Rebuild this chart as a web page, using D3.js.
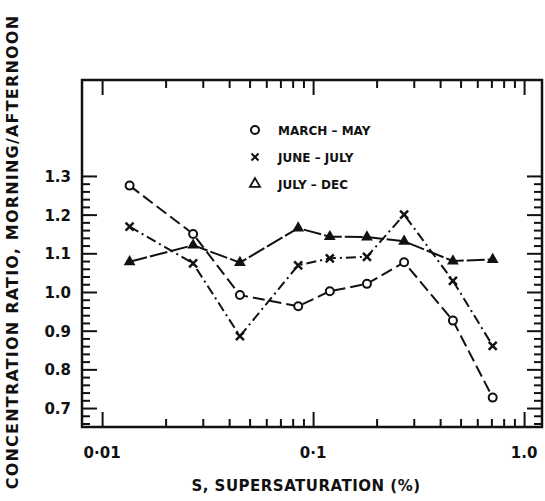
<!DOCTYPE html>
<html>
<head>
<meta charset="utf-8">
<script src="https://cdn.jsdelivr.net/npm/d3@7"></script>
<style>
  body { margin: 0; background: #fff; }
  svg text { font-family: "DejaVu Sans", sans-serif; font-weight: bold; fill: #111; }
</style>
</head>
<body>
<div id="chart"></div>
<script>
// Data
var supersat = [0.0135, 0.027, 0.045, 0.085, 0.12, 0.18, 0.27, 0.46, 0.71];
var marchMay = [1.275, 1.15, 0.992, 0.963, 1.002, 1.021, 1.077, 0.926, 0.727];
var juneJuly = [1.169, 1.074, 0.886, 1.069, 1.087, 1.091, 1.2, 1.029, 0.861];
var julyDec  = [1.078, 1.121, 1.076, 1.165, 1.143, 1.142, 1.131, 1.08, 1.084];
var seriesNames = ["MARCH \u2013 MAY", "JUNE \u2013 JULY", "JULY \u2013 DEC"];
var xMajor = [0.01, 0.1, 1.0];
var xMajorLabels = ["0\u00b701", "0\u00b71", "1.0"];
var yMajor = [0.7, 0.8, 0.9, 1.0, 1.1, 1.2, 1.3];
var yMajorLabels = ["0.7", "0.8", "0.9", "1.0", "1.1", "1.2", "1.3"];

//Canvas
var W = 545, H = 501;
var m = {left: 82, top: 80, right: 3, bottom: 74};
var w = W - m.left - m.right, h = H - m.top - m.bottom;

var svg = d3.select("#chart").append("svg").attr("width", W).attr("height", H);
var g = svg.append("g").attr("transform", "translate(" + m.left + "," + m.top + ")");

var x = d3.scaleLog().domain([0.00803, 1.216]).range([0, w]);
var y = d3.scaleLinear().domain([0.651, 1.548]).range([h, 0]);

// minor tick values
var xMinor = [];
[0.01, 0.1].forEach(function(b){ for (var k = 2; k <= 9; k++) xMinor.push(b * k); });
var yMinor = d3.range(66, 130, 2).map(function(v){ return v / 100; })
  .filter(function(v){ return Math.round(v * 100) % 10 != 0; });

// Axes (ticks pointing inward on all four sides)
function tickAxis(axisFn, scale, vals, len) {
  return axisFn(scale).tickValues(vals).tickSize(len).tickFormat("");
}
var sides = [
  {fn: d3.axisTop, s: x, t: "translate(0," + h + ")"},
  {fn: d3.axisBottom, s: x, t: "translate(0,0)"},
  {fn: d3.axisRight, s: y, t: "translate(0,0)"},
  {fn: d3.axisLeft, s: y, t: "translate(" + w + ",0)"}
];
sides.forEach(function(sd){
  var isX = sd.s === x;
  var major = isX ? xMajor : yMajor;
  var minor = isX ? xMinor : yMinor;
  g.append("g").attr("transform", sd.t).call(tickAxis(sd.fn, sd.s, major, 15));
  g.append("g").attr("transform", sd.t).call(tickAxis(sd.fn, sd.s, minor, 8));
});
g.selectAll(".domain").remove();
g.selectAll(".tick line").attr("stroke", "#111").attr("stroke-width", 2);

// frame
g.append("rect").attr("width", w).attr("height", h)
  .attr("fill", "none").attr("stroke", "#111").attr("stroke-width", 2.5);

// tick labels
g.selectAll(".xlab").data(xMajor).enter().append("text")
  .attr("x", function(d){ return x(d); }).attr("y", h + 31)
  .attr("text-anchor", "middle").style("font-size", "15px")
  .text(function(d, i){ return xMajorLabels[i]; });
g.selectAll(".ylab").data(yMajor).enter().append("text")
  .attr("x", -11).attr("y", function(d){ return y(d) + 6; })
  .attr("text-anchor", "end").style("font-size", "15px")
  .text(function(d, i){ return yMajorLabels[i]; });

// axis titles
svg.append("text").attr("x", 306).attr("y", 491).attr("text-anchor", "middle")
  .style("font-size", "15px").style("letter-spacing", "0.5px")
  .text("S,  SUPERSATURATION (%)");
svg.append("text").attr("transform", "translate(18,252) rotate(-90)")
  .attr("text-anchor", "middle").style("font-size", "16px").style("letter-spacing", "1.2px")
  .text("CONCENTRATION RATIO,  MORNING/AFTERNOON");

// lines
var series = [
  {vals: marchMay, dash: "12,5"},
  {vals: juneJuly, dash: "10,4,2,4"},
  {vals: julyDec, dash: "18,3"}
];
var line = d3.line()
  .x(function(d, i){ return x(supersat[i]); })
  .y(function(d){ return y(d); });
series.forEach(function(s){
  g.append("path").datum(s.vals).attr("d", line)
    .attr("fill", "none").attr("stroke", "#111").attr("stroke-width", 2)
    .attr("stroke-dasharray", s.dash);
});

// markers
var tri = d3.symbol().type(d3.symbolTriangle).size(60);
g.selectAll(".c").data(marchMay).enter().append("circle")
  .attr("cx", function(d, i){ return x(supersat[i]); }).attr("cy", function(d){ return y(d); })
  .attr("r", 4).attr("fill", "#fff").attr("stroke", "#111").attr("stroke-width", 2);
g.selectAll(".x").data(juneJuly).enter().append("path")
  .attr("transform", function(d, i){ return "translate(" + x(supersat[i]) + "," + y(d) + ")"; })
  .attr("d", "M-4,-4L4,4M-4,4L4,-4").attr("stroke", "#111").attr("stroke-width", 2.5);
g.selectAll(".t").data(julyDec).enter().append("path")
  .attr("transform", function(d, i){ return "translate(" + x(supersat[i]) + "," + y(d) + ")"; })
  .attr("d", tri).attr("fill", "#111");

// legend
var legY = [130, 157, 184];
var leg = svg.append("g");
leg.append("circle").attr("cx", 255).attr("cy", legY[0]).attr("r", 4)
  .attr("fill", "none").attr("stroke", "#111").attr("stroke-width", 2);
leg.append("path").attr("transform", "translate(255," + legY[1] + ")")
  .attr("d", "M-3.5,-3.5L3.5,3.5M-3.5,3.5L3.5,-3.5").attr("stroke", "#111").attr("stroke-width", 2);
leg.append("path").attr("transform", "translate(255," + legY[2] + ")")
  .attr("d", d3.symbol().type(d3.symbolTriangle).size(45)).attr("fill", "none")
  .attr("stroke", "#111").attr("stroke-width", 1.8);
leg.selectAll(".lt").data(seriesNames).enter().append("text")
  .attr("x", 278).attr("y", function(d, i){ return legY[i] + 4.5; })
  .style("font-size", "12px").text(function(d){ return d; });
</script>
</body>
</html>
